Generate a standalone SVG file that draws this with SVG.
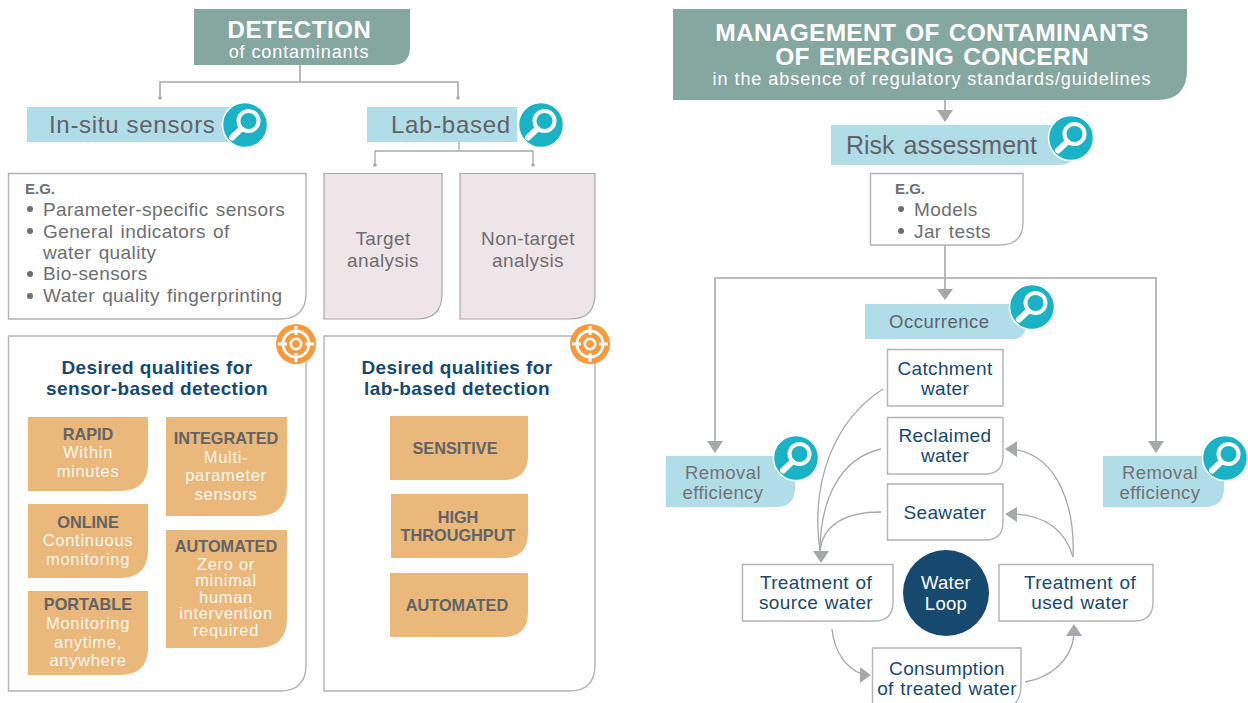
<svg xmlns="http://www.w3.org/2000/svg" width="1248" height="703" viewBox="0 0 1248 703">
<style>
text{font-family:"Liberation Sans",Arial,sans-serif}
.m{text-anchor:middle}
.box{fill:#fff;stroke:#b2b3b5;stroke-width:1.4}
.pink{fill:#ede5e8;stroke:#a9aaac;stroke-width:1.2}
.tl{fill:#84a79f}
.bl{fill:#b0dde8}
.org{fill:#e9b87a}
.or{font-size:16.300px;font-weight:700;fill:#626366;text-anchor:middle}
.ot{font-size:16.500px;letter-spacing:.7px;fill:#fdf7ee;text-anchor:middle}
.h{font-size:19px;letter-spacing:.4px;font-weight:700;fill:#17496f;text-anchor:middle}
.g{font-size:19px;letter-spacing:.4px;word-spacing:1.500px;fill:#6d6e71}
.n{font-size:19px;letter-spacing:.35px;word-spacing:1px;fill:#17496f;text-anchor:middle}
.r{font-size:18.500px;letter-spacing:.4px;fill:#727376;text-anchor:middle}
.lb{font-size:24px;letter-spacing:.7px;fill:#626366}
.ln{fill:none;stroke:#a7a8aa;stroke-width:1.3}
.ln2{fill:none;stroke:#a7a8aa;stroke-width:1.6}
.ah{fill:#a7a8ab}
.dot{fill:#6d6e71}
</style>
<defs>
<g id="mag"><circle r="22.500" fill="#1ab3c6" stroke="#fff" stroke-width="1.500"/><circle cx="3.500" cy="-4" r="10" fill="#1ab3c6" stroke="#fff" stroke-width="4"/><path d="M-4 4L-13 12.500" stroke="#fff" stroke-width="6" stroke-linecap="round"/></g>
<g id="tgt"><circle r="20" fill="#f79a3e"/><circle r="13" fill="none" stroke="#fff" stroke-width="2.800"/><circle r="5.200" fill="#f79a3e" stroke="#fff" stroke-width="2.500"/><path d="M0-18V-9M0 9V18M-18 0H-9M9 0H18" stroke="#fff" stroke-width="3"/></g>
</defs>
<g id="connectors">
<path class="ln2" d="M300 65V82M160 98V82H458V98"/>
<circle class="ah" cx="160" cy="98" r="1.800"/><circle class="ah" cx="458" cy="98" r="1.800"/>
<path class="ln" d="M459 142V151M375 165V151H533V165"/>
<circle class="ah" cx="375" cy="165" r="1.800"/><circle class="ah" cx="533" cy="165" r="1.800"/>
<path class="ln2" d="M945 100V112"/><path class="ah" d="M937 110H953L945 122Z"/>
<path class="ln2" d="M945 245V292M715 443V278H1156V443"/>
<path class="ah" d="M937 289H953L945 300Z"/><path class="ah" d="M707 441H723L715 453Z"/><path class="ah" d="M1148 441H1164L1156 453Z"/>
<path class="ln" d="M883 389C835 420 810 480 820 552"/>
<path class="ln" d="M881 449C840 458 820 500 820 552"/>
<path class="ln" d="M881 512C845 512 822 525 820 552"/>
<path class="ah" d="M813 551H829L821 563Z"/>
<path class="ln" d="M1073 557C1075 510 1060 455 1012 449"/>
<path class="ln" d="M1073 557C1065 530 1045 515 1012 514"/>
<path class="ah" d="M1005 449L1017 441V457Z"/><path class="ah" d="M1005 514L1017 507V522Z"/>
<path class="ln" d="M832 629C834 650 845 668 862 674"/>
<path class="ah" d="M871 675L860 667V683Z"/>
<path class="ln" d="M1025 682C1050 678 1072 660 1074 634"/>
<path class="ah" d="M1074 624L1066 636H1082Z"/>
</g>
<g id="detection"><path class="tl" d="M194 9H410V47Q410 65 392 65H194Z"/>
<text class="m" x="299.500" y="38" font-size="24" letter-spacing=".6" font-weight="700" fill="#fff">DETECTION</text>
<text class="m" x="299" y="58" font-size="18" letter-spacing=".9" fill="#fff">of contaminants</text></g>
<g id="insitu"><rect class="bl" x="27" y="107" width="205" height="35"/>
<text class="lb" x="49" y="133">In-situ sensors</text><use href="#mag" x="245" y="125"/></g>
<g id="labbased"><rect class="bl" x="367" y="107" width="150" height="35"/>
<text class="lb" x="391" y="133">Lab-based</text><use href="#mag" x="541" y="125"/></g>
<g id="eg1"><path class="box" d="M8.500 173.500H306V293Q306 319 280 319H8.500Z"/>
<text x="25" y="194" font-size="15" font-weight="700" fill="#6d6e71">E.G.</text>
<circle class="dot" cx="30" cy="209" r="3"/><circle class="dot" cx="30" cy="231" r="3"/><circle class="dot" cx="30" cy="274" r="3"/><circle class="dot" cx="30" cy="296" r="3"/>
<text class="g" x="43" y="216">Parameter-specific sensors</text>
<text class="g" x="43" y="238">General indicators of</text>
<text class="g" x="43" y="259">water quality</text>
<text class="g" x="43" y="280">Bio-sensors</text>
<text class="g" x="43" y="302">Water quality fingerprinting</text></g>
<g id="target"><path class="pink" d="M324 173.500H442V294Q442 319 417 319H324Z"/>
<text class="m g" x="383" y="245">Target</text><text class="m g" x="383" y="267">analysis</text></g>
<g id="nontarget"><path class="pink" d="M460 173.500H595V294Q595 319 570 319H460Z"/>
<text class="m g" x="528" y="245">Non-target</text><text class="m g" x="528" y="267">analysis</text></g>
<g id="sensorq"><path class="box" d="M8.500 336H306V665Q306 691 280 691H8.500Z"/>
<text class="h" x="157" y="374">Desired qualities for</text><text class="h" x="157" y="395">sensor-based detection</text><use href="#tgt" x="296" y="344"/></g>
<g id="labq"><path class="box" d="M324 336H595V665Q595 691 569 691H324Z"/>
<text class="h" x="457" y="374">Desired qualities for</text><text class="h" x="457" y="395">lab-based detection</text><use href="#tgt" x="590" y="344"/></g>
<g id="rapid"><path class="org" d="M28 417H148V463Q148 491 120 491H28Z"/><text class="or" x="88" y="440">RAPID</text><text class="ot" x="88" y="458">Within</text><text class="ot" x="88" y="477">minutes</text></g>
<g id="online"><path class="org" d="M28 504H148V550Q148 578 120 578H28Z"/><text class="or" x="88" y="528">ONLINE</text><text class="ot" x="88" y="546">Continuous</text><text class="ot" x="88" y="565">monitoring</text></g>
<g id="portable"><path class="org" d="M28 591H148V647Q148 675 120 675H28Z"/><text class="or" x="88" y="610">PORTABLE</text><text class="ot" x="88" y="629">Monitoring</text><text class="ot" x="88" y="648">anytime,</text><text class="ot" x="88" y="666">anywhere</text></g>
<g id="integrated"><path class="org" d="M166 417H287V486Q287 516 257 516H166Z"/><text class="or" x="226" y="444">INTEGRATED</text><text class="ot" x="226" y="463">Multi-</text><text class="ot" x="226" y="481">parameter</text><text class="ot" x="226" y="500">sensors</text></g>
<g id="automated1"><path class="org" d="M166 530H287V618Q287 648 257 648H166Z"/><text class="or" x="226" y="552">AUTOMATED</text><text class="ot" x="226" y="570">Zero or</text><text class="ot" x="226" y="586">minimal</text><text class="ot" x="226" y="603">human</text><text class="ot" x="226" y="619">intervention</text><text class="ot" x="226" y="636">required</text></g>
<g id="sensitive"><path class="org" d="M390 416H528V455Q528 480 503 480H390Z"/><text class="or" x="455" y="454">SENSITIVE</text></g>
<g id="throughput"><path class="org" d="M391 494H528V533Q528 558 503 558H391Z"/><text class="or" x="458" y="523">HIGH</text><text class="or" x="458" y="541">THROUGHPUT</text></g>
<g id="automated2"><path class="org" d="M390 573H528V612Q528 637 503 637H390Z"/><text class="or" x="457" y="611">AUTOMATED</text></g>
<g id="management"><path class="tl" d="M673 9H1187V70Q1187 100 1157 100H673Z"/>
<text class="m" font-size="24.500" letter-spacing=".25" font-weight="700" fill="#fff" word-spacing="2"><tspan x="932" y="41">MANAGEMENT OF CONTAMINANTS</tspan><tspan x="932" y="65">OF EMERGING CONCERN</tspan></text>
<text class="m" x="932" y="85" font-size="18" letter-spacing=".95" fill="#fff">in the absence of regulatory standards/guidelines</text></g>
<g id="risk"><path class="bl" d="M831 125H1076V148Q1076 165 1059 165H831Z"/>
<text x="846" y="154" font-size="25" fill="#626366" word-spacing="2">Risk assessment</text><use href="#mag" x="1071" y="138"/></g>
<g id="eg2"><path class="box" d="M870.500 173.500H1023V222Q1023 245 1000 245H870.500Z"/>
<text x="895" y="194" font-size="15" font-weight="700" fill="#6d6e71">E.G.</text>
<circle class="dot" cx="901" cy="209" r="3"/><circle class="dot" cx="901" cy="231" r="3"/>
<text class="g" x="914" y="216">Models</text><text class="g" x="914" y="238">Jar tests</text></g>
<g id="occurrence"><path class="bl" d="M865 304H1026V325Q1026 339 1012 339H865Z"/>
<text x="889" y="328" font-size="18.500" letter-spacing=".5" fill="#626366">Occurrence</text><use href="#mag" x="1032" y="307"/></g>
<g id="removal1"><path class="bl" d="M666 456H795V488Q795 507 776 507H666Z"/>
<text class="r" x="723" y="479">Removal</text><text class="r" x="723" y="499">efficiency</text><use href="#mag" x="796" y="458"/></g>
<g id="removal2"><path class="bl" d="M1103 456H1224V488Q1224 507 1205 507H1103Z"/>
<text class="r" x="1160" y="479">Removal</text><text class="r" x="1160" y="499">efficiency</text><use href="#mag" x="1225" y="458"/></g>
<g id="catchment"><path class="box" d="M887.500 349.500H1003V406H887.500Z"/><text class="n" x="945" y="375">Catchment</text><text class="n" x="945" y="395">water</text></g>
<g id="reclaimed"><path class="box" d="M887.500 417.500H1003V456Q1003 474 985 474H887.500Z"/><text class="n" x="945" y="442">Reclaimed</text><text class="n" x="945" y="462">water</text></g>
<g id="seawater"><path class="box" d="M887.500 484H1003V522Q1003 540 985 540H887.500Z"/><text class="n" x="945" y="519">Seawater</text></g>
<g id="source"><path class="box" d="M742.500 564.500H893V602Q893 621 874 621H742.500Z"/><text class="n" x="816" y="589">Treatment of</text><text class="n" x="816" y="609">source water</text></g>
<g id="waterloop"><circle cx="946" cy="593" r="43" fill="#17496f"/><text class="m" x="946" y="589" font-size="18.500" letter-spacing=".3" fill="#fff">Water</text><text class="m" x="946" y="610" font-size="18.500" letter-spacing=".3" fill="#fff">Loop</text></g>
<g id="used"><path class="box" d="M999 564.500H1153V602Q1153 621 1134 621H999Z"/><text class="n" x="1080" y="589">Treatment of</text><text class="n" x="1080" y="609">used water</text></g>
<g id="consumption"><path class="box" d="M872.500 648H1021V685Q1021 710 996 710H872.500Z"/><text class="n" x="947" y="675">Consumption</text><text class="n" x="947" y="695">of treated water</text></g>
</svg>
